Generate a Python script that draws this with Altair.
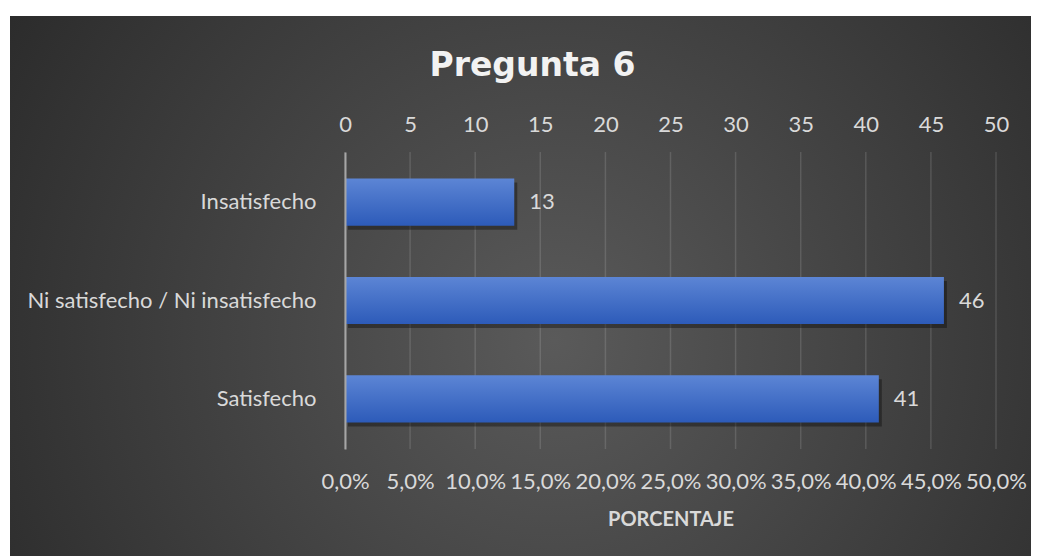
import altair as alt
import pandas as pd

categories = ["Insatisfecho", "Ni satisfecho / Ni insatisfecho", "Satisfecho"]
values = [13, 46, 41]
axis_ticks = [0, 5, 10, 15, 20, 25, 30, 35, 40, 45, 50]
title_text = "Pregunta 6"
x_title = "PORCENTAJE"

df = pd.DataFrame({"categoria": categories, "valor": values})
grid_df = pd.DataFrame({"valor": axis_ticks})

LABEL = "#d9d9d9"

y_enc = alt.Y(
    "categoria:N", sort=categories, title=None,
    scale=alt.Scale(paddingInner=0.52, paddingOuter=0.27),
    axis=alt.Axis(domain=True, domainColor="#a6a6a6", domainWidth=2, ticks=False,
                  grid=False, labelPadding=29, labelFontSize=22, labelColor=LABEL,
                  labelFont="Lato", labelLimit=400, zindex=1),
)

x_scale = alt.Scale(domain=[0, 50], nice=False, zero=True)

x_top = alt.X(
    "valor:Q", scale=x_scale, title=None,
    axis=alt.Axis(orient="top", values=axis_ticks, format="d", domain=False, ticks=False,
                  grid=False, labelPadding=16, labelFontSize=22, labelColor=LABEL,
                  labelFont="Lato", labelFlush=False, labelOverlap=False, zindex=1),
)

x_bottom = alt.X(
    "valor:Q", scale=x_scale, title=x_title,
    axis=alt.Axis(orient="bottom", values=axis_ticks,
                  labelExpr="replace(format(datum.value/100, '.1%'), '.', ',')",
                  domain=False, ticks=False, grid=False, labelPadding=22,
                  labelFontSize=22, labelColor=LABEL, labelFont="Lato",
                  labelFlush=False, labelOverlap=False,
                  titleFontSize=20, titleFontWeight="bold", titleColor=LABEL,
                  titleFont="Lato", titlePadding=17, zindex=1),
)

bg_gradient = {
    "gradient": "radial",
    "x1": 0.53, "y1": 0.55, "r1": 0,
    "x2": 0.53, "y2": 0.55, "r2": 0.72,
    "stops": [
        {"offset": 0, "color": "#5a5a5a"},
        {"offset": 1, "color": "#242424"},
    ],
}

bar_gradient = {
    "gradient": "linear",
    "x1": 0, "y1": 0, "x2": 0, "y2": 1,
    "stops": [
        {"offset": 0, "color": "#5c85d5"},
        {"offset": 1, "color": "#2d5bb9"},
    ],
}

one = pd.DataFrame({"t": [title_text]})

bg = alt.Chart(one).mark_rect(color=bg_gradient).encode(
    x=alt.value(-335), x2=alt.value(692), y=alt.value(-136), y2=alt.value(410)
)

title_mark = alt.Chart(one).mark_text(
    font="DejaVu Sans", fontSize=33, fontWeight="bold", color="#f2f2f2",
    align="center", baseline="alphabetic"
).encode(x=alt.value(187.5), y=alt.value(-76), text="t:N")

base = alt.Chart(df)

grid = alt.Chart(grid_df).mark_rule(color="#ffffff", opacity=0.13, strokeWidth=1.5).encode(
    x=x_top
)
shadow = base.mark_bar(color="#000000", opacity=0.35, xOffset=3, yOffset=4).encode(
    x=x_top, y=y_enc
)
bars = base.mark_bar(color=bar_gradient).encode(x=x_top, y=y_enc)
labels = base.mark_text(align="left", baseline="middle", dx=15, fontSize=22,
                        color=LABEL, font="Lato").encode(
    x=x_top, y=y_enc, text=alt.Text("valor:Q")
)

main = alt.layer(grid, shadow, bars, labels)

bottom = base.mark_point(opacity=0).encode(x=x_bottom, y=y_enc)

chart = alt.layer(bg, title_mark, main, bottom).resolve_scale(x="independent").properties(
    width=651,
    height=297,
    padding={"left": 337, "top": 144, "right": 35, "bottom": 107},
    autosize="none",
    background="#ffffff",
).configure_view(stroke=None).configure(font="Lato")

chart.save("out.html", embed_options={"renderer": "svg", "actions": False})
